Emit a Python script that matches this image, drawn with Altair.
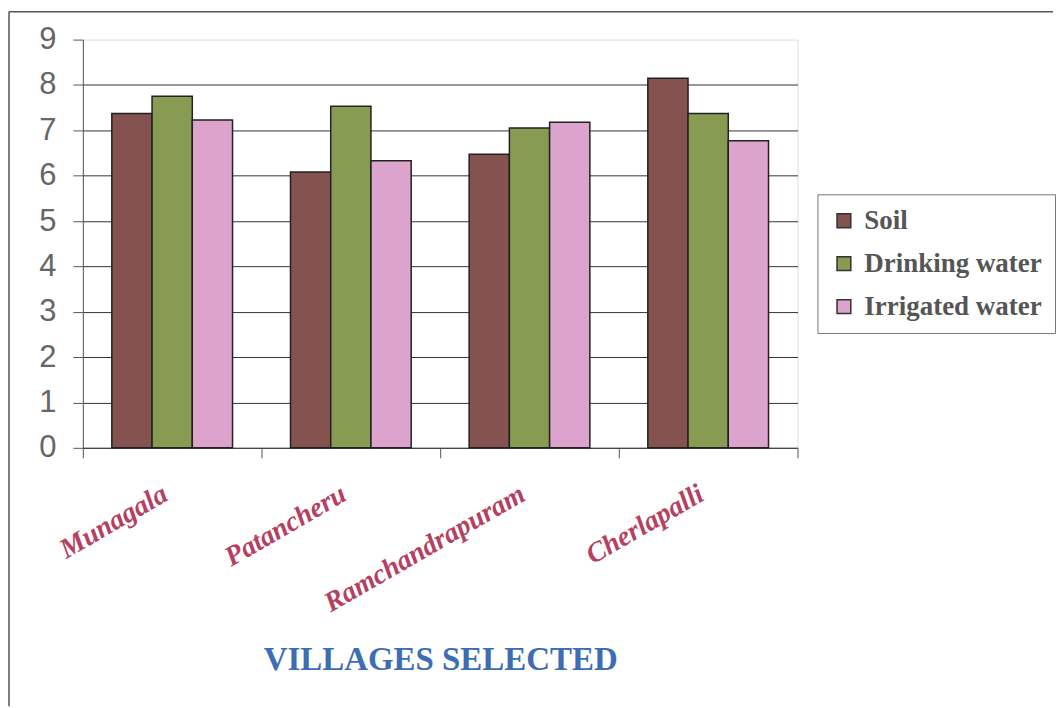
import altair as alt
import pandas as pd

villages = ["Munagala", "Patancheru", "Ramchandrapuram", "Cherlapalli"]
series = ["Soil", "Drinking water", "Irrigated water"]
soil = [7.37, 6.08, 6.47, 8.15]
drinking = [7.75, 7.53, 7.05, 7.37]
irrigated = [7.23, 6.33, 7.18, 6.77]
colors = ["#84524F", "#879C52", "#DCA4CD"]
y_ticks = list(range(0, 10))

rows = []
for i, v in enumerate(villages):
    for s, vals in zip(series, [soil, drinking, irrigated]):
        rows.append({"village": v, "series": s, "value": vals[i]})
df = pd.DataFrame(rows)

W, H = 716, 409

bars = alt.Chart(df).mark_bar(stroke="#222222", strokeWidth=1.5).encode(
    x=alt.X(
        "village:N",
        sort=villages,
        scale=alt.Scale(paddingInner=0, paddingOuter=0),
        axis=alt.Axis(
            title="VILLAGES SELECTED",
            labelAngle=-30,
            labelLimit=0,
            labelOffset=-14,
            tickBand="extent",
            tickSize=10,
            tickColor="#555555",
            domainColor="#444444",
            labelFont="Liberation Serif",
            labelFontStyle="italic",
            labelFontWeight="bold",
            labelFontSize=28,
            labelColor="#B5405F",
            labelPadding=22,
            titleFont="Liberation Serif",
            titleFontWeight="bold",
            titleFontSize=33,
            titleColor="#3D6DB5",
            titleY=222,
            titleBaseline="alphabetic",
            grid=False,
        ),
    ),
    xOffset=alt.XOffset(
        "series:N", sort=series, scale=alt.Scale(paddingInner=0, paddingOuter=0.72)
    ),
    y=alt.Y(
        "value:Q",
        scale=alt.Scale(domain=[0, 9], nice=False),
        axis=alt.Axis(
            title=None,
            values=y_ticks,
            grid=True,
            gridColor="#333333",
            gridWidth=1,
            gridOpacity=alt.condition("datum.value == 9", alt.value(0), alt.value(1)),
            domainColor="#555555",
            tickColor="#555555",
            tickSize=10,
            labelFont="Liberation Sans",
            labelFontSize=31,
            labelColor="#666666",
            labelPadding=17,
        ),
    ),
    color=alt.Color(
        "series:N",
        sort=series,
        scale=alt.Scale(domain=series, range=colors),
        legend=alt.Legend(
            title=None,
            orient="none",
            legendX=736,
            legendY=155,
            strokeColor="#777777",
            fillColor="white",
            padding=13,
            labelFont="Liberation Serif",
            labelFontWeight="bold",
            labelFontSize=27,
            labelColor="#555555",
            labelLimit=0,
            labelOffset=7,
            symbolType="square",
            symbolSize=190,
            symbolStrokeColor="#333333",
            symbolStrokeWidth=1.5,
            rowPadding=15,
        ),
    ),
)

one = pd.DataFrame({"k": [0]})
left_frame = alt.Chart(one).mark_rule(color="#555555", strokeWidth=1.5).encode(
    x=alt.value(-74), y=alt.value(-28), y2=alt.value(668)
)
top_frame = alt.Chart(one).mark_rule(color="#555555", strokeWidth=1.5).encode(
    x=alt.value(-74), x2=alt.value(972), y=alt.value(-28)
)

chart = (
    alt.layer(bars, left_frame, top_frame)
    .properties(width=W, height=H, padding={"left": 8, "top": 10, "right": 0, "bottom": 0})
    .configure_view(fill="#FBF8A8", stroke=None)
    .configure(background="white")
)

chart.save("out.html", embed_options={"renderer": "svg", "actions": False})
